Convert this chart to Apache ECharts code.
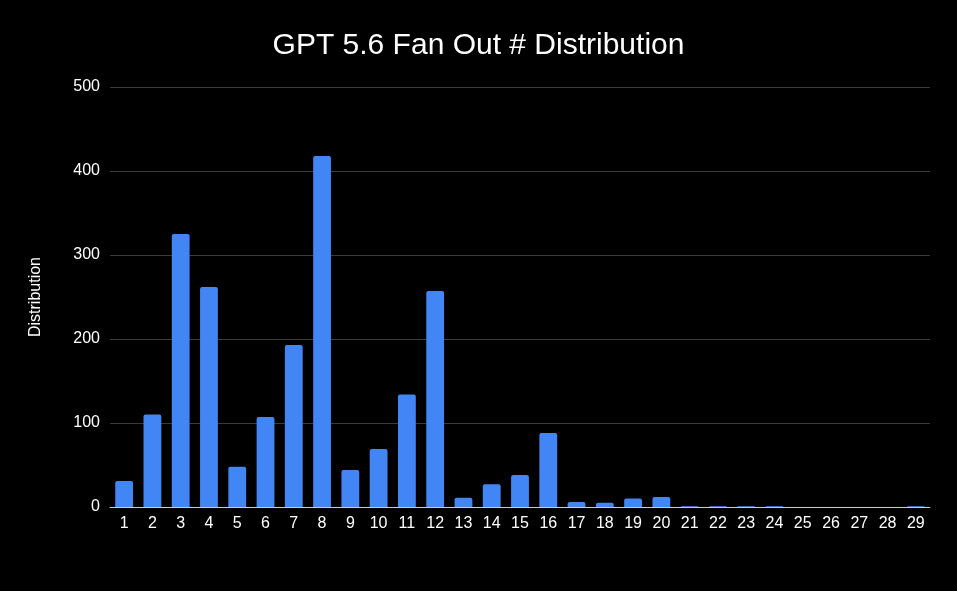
<!DOCTYPE html>
<html>
<head>
<meta charset="utf-8">
<title>GPT 5.6 Fan Out # Distribution</title>
<script src="https://cdn.jsdelivr.net/npm/echarts@6/dist/echarts.min.js"></script>
<style>
    html, body { margin: 0; padding: 0; background: #000; }
    #chart { width: 957px; height: 591px; }
</style>
</head>
<body>
<div id="chart"></div>
<script>
// fan out count (x) and how often it occurred
var fanOutCounts = ['1', '2', '3', '4', '5', '6', '7', '8', '9', '10',
    '11', '12', '13', '14', '15', '16', '17', '18', '19', '20',
    '21', '22', '23', '24', '25', '26', '27', '28', '29'];
var distribution = [31, 110, 325, 262, 48, 107, 193, 418, 44, 69,
    134, 257, 11, 27, 38, 88, 6, 5, 10, 12,
    1, 1, 1, 1, 0, 0, 0, 0, 1];
var yTicks = [0, 100, 200, 300, 400, 500];

var chart = echarts.init(document.getElementById('chart'));

var option = {
    backgroundColor: '#000000',
    textStyle: { fontFamily: 'Liberation Sans, Arial, sans-serif' },
    title: {
        text: 'GPT 5.6 Fan Out # Distribution',
        left: 'center',
        top: 26,
        textStyle: { color: '#ffffff', fontSize: 30, fontWeight: 'normal' }
    },
    grid: { left: 110, right: 27, top: 87, bottom: 84 },
    xAxis: {
        type: 'category',
        data: fanOutCounts,
        axisLine: { lineStyle: { color: '#cccccc', width: 1 } },
        axisTick: { show: false },
        axisLabel: { color: '#ffffff', fontSize: 16, margin: 9, interval: 0 }
    },
    yAxis: {
        type: 'value',
        min: yTicks[0],
        max: yTicks[yTicks.length - 1],
        interval: 100,
        name: 'Distribution',
        nameLocation: 'middle',
        nameGap: 66,
        nameTextStyle: { color: '#ffffff', fontSize: 16 },
        axisLine: { show: false },
        axisTick: { show: false },
        axisLabel: { color: '#ffffff', fontSize: 16, margin: 10 },
        splitLine: { lineStyle: { color: '#3a3a3a', width: 1 } }
    },
    series: [{
        name: 'Distribution',
        type: 'bar',
        data: distribution,
        barCategoryGap: '37%',
        itemStyle: { color: '#4285f4', borderRadius: [2, 2, 0, 0] }
    }]
};

chart.setOption(option);
</script>
</body>
</html>
